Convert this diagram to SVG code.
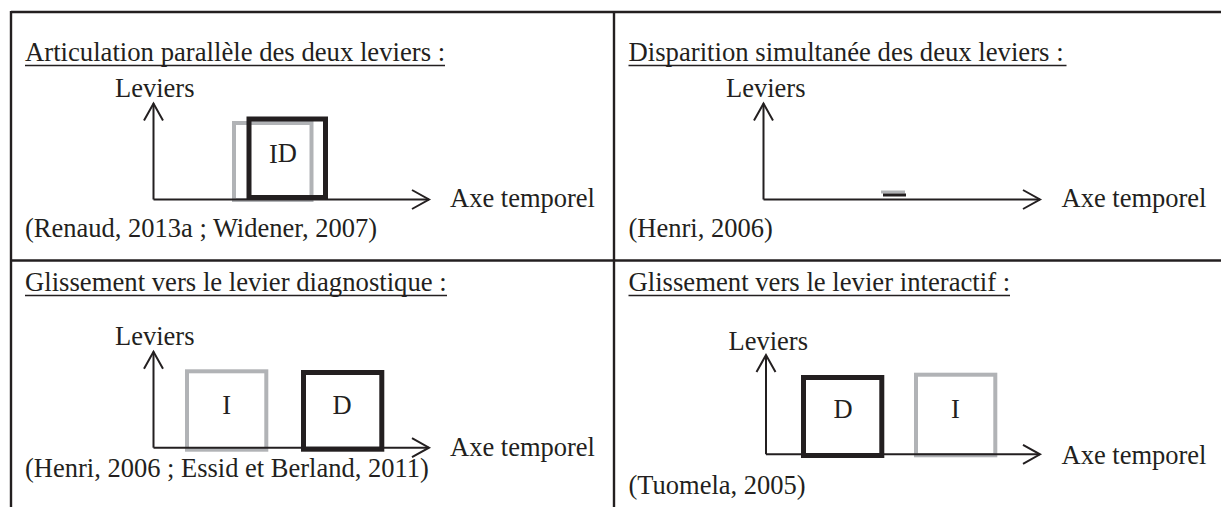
<svg xmlns="http://www.w3.org/2000/svg" width="1221" height="507" viewBox="0 0 1221 507">
<style>
  text { font-family: "Liberation Serif", "Times New Roman", serif; fill: #231f20; }
  .title { font-size: 26.7px; }
  .lbl { font-size: 26.5px; }
  .mid { text-anchor: middle; }
  .grid { stroke: #231f20; stroke-width: 2.4; fill: none; }
  .ul { stroke: #231f20; stroke-width: 1.4; }
  .axis { stroke: #231f20; stroke-width: 2; fill: none; marker-end: url(#chev); }
  .lev-i { fill: none; stroke: #b1b3b6; stroke-width: 4; }
  .lev-d { fill: none; stroke: #231f20; stroke-width: 5; }
</style>
<defs>
  <marker id="chev" markerUnits="userSpaceOnUse" markerWidth="40" markerHeight="40" refX="0" refY="0" viewBox="-20 -20 40 40" orient="auto" overflow="visible">
    <path d="M-17,-9.5 L0,0 L-17,9.5" fill="none" stroke="#231f20" stroke-width="2"/>
  </marker>
</defs>
<rect width="1221" height="507" fill="#ffffff"/>

<g id="grid">
  <line class="grid" x1="11" y1="12" x2="1221" y2="12"/>
  <line class="grid" x1="11" y1="260.5" x2="1221" y2="260.5"/>
  <line class="grid" x1="11" y1="11" x2="11" y2="507"/>
  <line class="grid" x1="614" y1="11" x2="614" y2="507"/>
</g>

<g id="panel-parallel">
  <g id="p1-title">
    <text class="title" x="25" y="61">Articulation parallèle des deux leviers :</text>
    <line class="ul" x1="25" y1="65.5" x2="445" y2="65.5"/>
  </g>
  <text id="p1-yl" class="lbl" x="115" y="96.5">Leviers</text>
  <text id="p1-xl" class="lbl" x="450" y="207">Axe temporel</text>
  <text id="p1-cite" class="lbl" x="25" y="236.5">(Renaud, 2013a ; Widener, 2007)</text>
  <g id="p1-lever-i"><rect class="lev-i" x="234" y="123" width="77.5" height="77"/></g>
  <g id="p1-lever-d"><rect class="lev-d" x="249" y="119" width="76.5" height="78.5"/></g>
  <text id="p1-id" class="lbl" x="269" y="163">I<tspan dy="-1.5">D</tspan></text>
</g>

<g id="panel-disparition">
  <g id="p2-title">
    <text class="title" x="628.5" y="61">Disparition simultanée des deux leviers :</text>
    <line class="ul" x1="628.5" y1="65.5" x2="1066.5" y2="65.5"/>
  </g>
  <text id="p2-yl" class="lbl" x="726" y="96.5">Leviers</text>
  <text id="p2-xl" class="lbl" x="1061.5" y="207">Axe temporel</text>
  <text id="p2-cite" class="lbl" x="628.5" y="236.5">(Henri, 2006)</text>
  <g id="p2-lever-i"><rect x="881" y="190.5" width="24" height="3" fill="#b1b3b6"/></g>
  <g id="p2-lever-d"><rect x="883" y="193.5" width="23" height="3" fill="#231f20"/></g>
</g>

<g id="panel-diagnostique">
  <g id="p3-title">
    <text class="title" x="25" y="291">Glissement vers le levier diagnostique :</text>
    <line class="ul" x1="25" y1="295.5" x2="447" y2="295.5"/>
  </g>
  <text id="p3-yl" class="lbl" x="115" y="345">Leviers</text>
  <text id="p3-xl" class="lbl" x="450" y="455.5">Axe temporel</text>
  <text id="p3-cite" class="lbl" x="25" y="477">(Henri, 2006 ; Essid et Berland, 2011)</text>
  <g id="p3-lever-i">
    <rect class="lev-i" x="187" y="371.3" width="79.3" height="78.4"/>
    <text class="lbl mid" x="226.7" y="414">I</text>
  </g>
  <g id="p3-lever-d">
    <rect class="lev-d" x="303.5" y="372.5" width="78.3" height="76.7"/>
    <text class="lbl mid" x="342" y="414">D</text>
  </g>
</g>

<g id="panel-interactif">
  <g id="p4-title">
    <text class="title" x="628.5" y="291">Glissement vers le levier interactif :</text>
    <line class="ul" x1="628.5" y1="295.5" x2="1010" y2="295.5"/>
  </g>
  <text id="p4-yl" class="lbl" x="728.5" y="350">Leviers</text>
  <text id="p4-xl" class="lbl" x="1061.5" y="464">Axe temporel</text>
  <text id="p4-cite" class="lbl" x="628.5" y="494">(Tuomela, 2005)</text>
  <g id="p4-lever-d">
    <rect class="lev-d" x="803.5" y="377.5" width="78.3" height="78"/>
    <text class="lbl mid" x="843" y="418">D</text>
  </g>
  <g id="p4-lever-i">
    <rect class="lev-i" x="916" y="374.7" width="79.3" height="80.6"/>
    <text class="lbl mid" x="955.5" y="418">I</text>
  </g>
</g>

<g id="connectors">
  <line class="axis" x1="153.5" y1="199.5" x2="153.5" y2="103.5"/>
  <line class="axis" x1="153.5" y1="199.5" x2="429" y2="199.5"/>
  <line class="axis" x1="763.5" y1="199.5" x2="763.5" y2="103.5"/>
  <line class="axis" x1="763.5" y1="199.5" x2="1040" y2="199.5"/>
  <line class="axis" x1="153.5" y1="447.7" x2="153.5" y2="351.7"/>
  <line class="axis" x1="153.5" y1="447.7" x2="429" y2="447.7"/>
  <line class="axis" x1="766" y1="454.3" x2="766" y2="355"/>
  <line class="axis" x1="766" y1="454.3" x2="1040" y2="454.3"/>
</g>
</svg>
